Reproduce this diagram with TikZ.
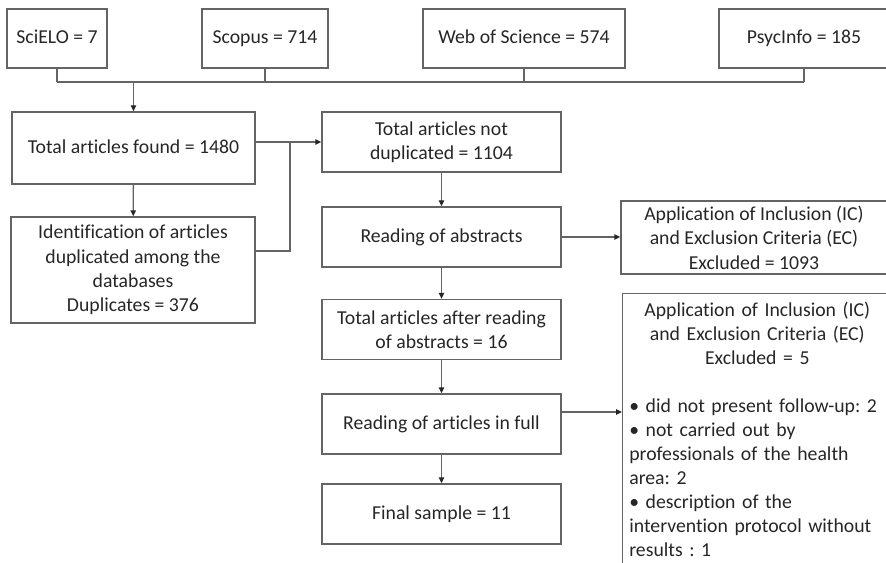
\documentclass[tikz,border=0pt]{standalone}
\usepackage{fontspec}
\setmainfont{Carlito}[Ligatures=NoCommon]
\frenchspacing
\usetikzlibrary{arrows.meta}
\definecolor{Box Line}{HTML}{646464}
\definecolor{Box Text}{HTML}{262626}

\begin{document}
\begin{tikzpicture}[x=0.75pt, y=-0.75pt]
  \useasboundingbox (0,0) rectangle (886,563);

  \tikzstyle{stage}=[draw=Box Line, line width=1pt, text=Box Text, align=center,
                     inner sep=0pt, font=\fontsize{14.8}{18.3}\selectfont]
  \tikzstyle{one line}=[text height=10pt, text depth=2pt]
  \tikzstyle{mid stage}=[stage, minimum width=239*0.75pt, minimum height=60*0.75pt]
  \tikzstyle{note}=[draw=Box Line, line width=1pt, text=Box Text, anchor=north west,
                    text width=192pt, inner xsep=5pt, inner ysep=6.5pt,
                    font=\fontsize{14.8}{18}\selectfont]
  \tikzstyle{link}=[draw=Box Line, line width=1pt]
  \tikzstyle{flow}=[link, -{Triangle[length=4.5pt,width=4pt,color=Box Text]}]

  % Draw the database nodes
  \foreach \name/\x/\w/\txt in {sci/57/100/SciELO = 7, sco/265/126/Scopus = 714,
                                wos/524/202/Web of Science = 574, psy/804/170/PsycInfo = 185}
      \node[stage, one line, minimum width=\w*0.75pt, minimum height=59*0.75pt] (\name) at (\x,38.5) {\txt};

  % Join the databases on one line
  \coordinate (bus) at (0,82);
  \foreach \name in {sci,sco,wos,psy}
      \path[link] (\name.south) -- (\name.south |- bus);
  \path[link] (sci.south |- bus) -- (psy.south |- bus);

  % Draw the left column
  \node[stage, one line, minimum width=243*0.75pt, minimum height=72*0.75pt] (found) at (133.5,148)
      {Total articles found = 1480};
  \node[stage, minimum width=244*0.75pt, minimum height=106*0.75pt] (dupl) at (133,270)
      {Identification of articles\\ duplicated among the\\ databases\\ Duplicates = 376};

  \path[flow] (found.north |- bus) -- (found.north);
  \path[flow] (found) -- (dupl);

  % Draw the middle column
  \foreach \name/\y/\txt in {notdup/142/Total articles not\\ duplicated = 1104,
                             after/329.5/Total articles after reading\\ of abstracts = 16}
      \node[mid stage] (\name) at (441.5,\y) {\txt};
  \foreach \name/\y/\txt in {abs/237/Reading of abstracts,
                             full/424/Reading of articles in full,
                             final/514/Final sample = 11}
      \node[mid stage, one line] (\name) at (441.5,\y) {\txt};

  \foreach \source/\dest in {notdup/abs, abs/after, after/full, full/final}
      \path[flow] (\source) -- (\dest);

  % Merge the left column into the middle one
  \coordinate (merge) at (290,251);
  \path[link] (dupl.east |- merge) -- (merge) -- (merge |- notdup.west);
  \path[flow] (found.east |- notdup.west) -- (notdup.west);

  % Draw the exclusion boxes
  \node[stage, minimum width=266*0.75pt, minimum height=73*0.75pt] (excl1) at (754,237.5)
      {Application of Inclusion (IC)\\ and Exclusion Criteria (EC)\\ Excluded = 1093};

  \node[note] (excl2) at (622,293)
      {\centering Application of Inclusion (IC)\\ and Exclusion Criteria (EC)\\ Excluded = 5\par
       \raggedright\vspace{18pt}
       \textbullet\ did not present follow-up: 2\\
       \textbullet\ not carried out by\\
       professionals of the health\\
       area: 2\\
       \textbullet\ description of the\\
       intervention protocol without\\
       results : 1\par\vspace*{30pt}};

  \path[flow] (abs.east) -- (abs.east -| excl1.west);
  \path[flow] ([yshift=9pt]full.east) -- ([yshift=9pt]full.east -| excl2.west);

\end{tikzpicture}
\end{document}
